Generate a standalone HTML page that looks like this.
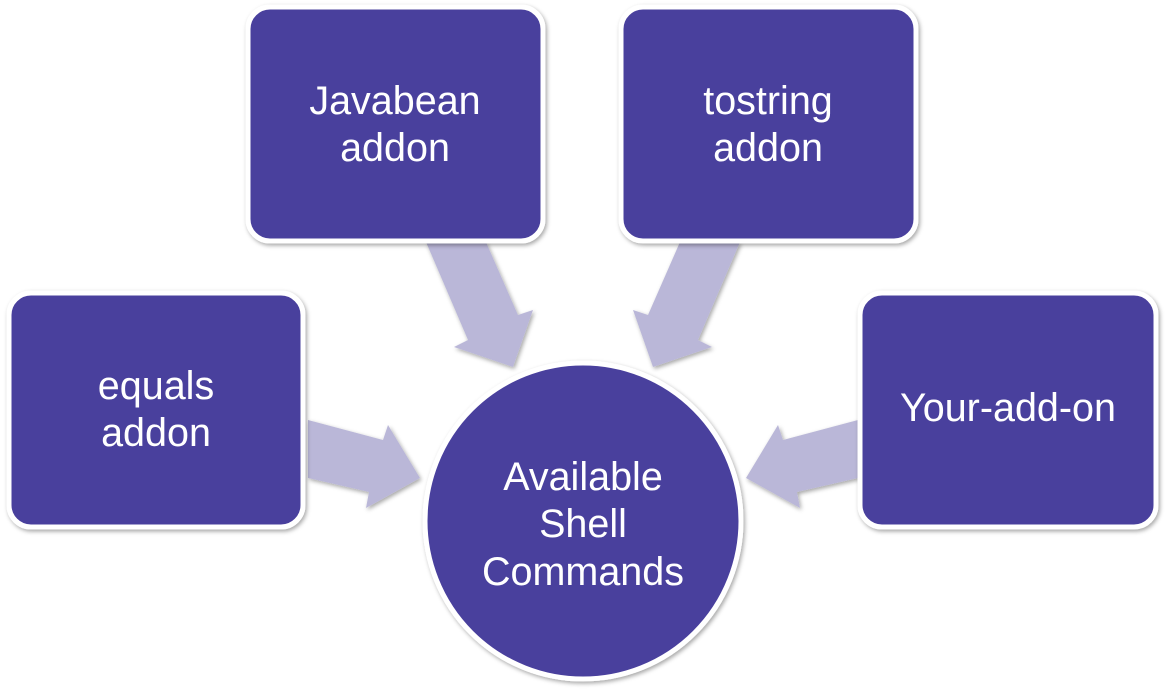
<!DOCTYPE html>
<html><head><meta charset="utf-8"><style>
html,body{margin:0;padding:0;background:#fff;width:1172px;height:694px;overflow:hidden}
svg text{font-family:"Liberation Sans",sans-serif;fill:#fff;font-size:39.5px;text-anchor:middle}
</style></head><body>
<svg width="1172" height="694" viewBox="0 0 1172 694" xmlns="http://www.w3.org/2000/svg">
<defs><filter id="sh" x="-10%" y="-10%" width="130%" height="130%"><feDropShadow dx="1.5" dy="2" stdDeviation="2" flood-color="#000" flood-opacity="0.35"/></filter></defs>
<g fill="#bab7d8" filter="url(#sh)">
<polygon points="426,242 486,242 518,315 533,310 513,367 454,347 468,340"/>
<polygon points="680,242 740,242 698,340 712,347 653,367 633,310 648,315"/>
<polygon points="308,420 383,440 388,425 420,478 366,508 369,492 308,478"/>
<polygon points="858,420 783,440 778,425 746,478 800,508 797,492 858,478"/>
</g>
<g fill="#4a3f9d" stroke="#fff" stroke-width="5" filter="url(#sh)">
<rect x="248" y="7" width="295" height="234" rx="22"/>
<rect x="621" y="7" width="295" height="234" rx="22"/>
<rect x="9" y="293" width="294" height="234" rx="22"/>
<rect x="860" y="293" width="296" height="234" rx="22"/>
<circle cx="583" cy="521" r="158"/>
</g>
<text x="395" y="114">Javabean</text><text x="395" y="161">addon</text>
<text x="768" y="114">tostring</text><text x="768" y="161">addon</text>
<text x="156" y="399">equals</text><text x="156" y="446">addon</text>
<text x="1008" y="421">Your-add-on</text>
<text x="583" y="490">Available</text><text x="583" y="537">Shell</text><text x="583" y="585">Commands</text>
</svg>
</body></html>
